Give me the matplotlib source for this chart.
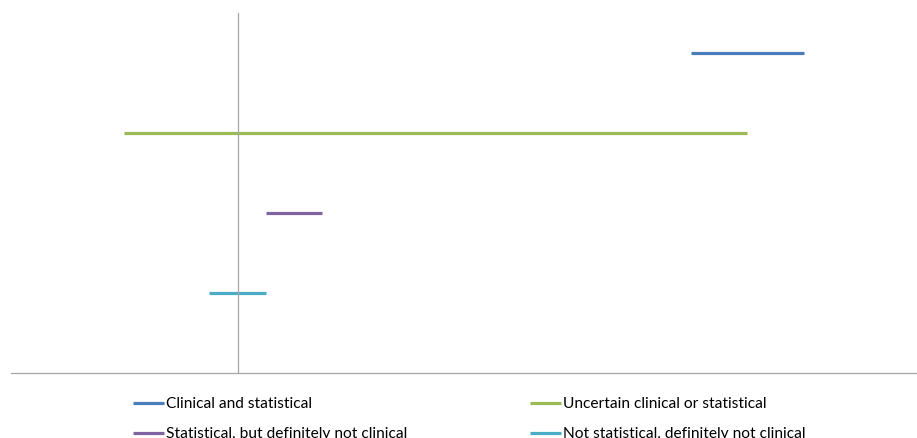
import matplotlib.pyplot as plt

# interval rows, top to bottom
labels = ["Clinical and statistical", "Uncertain clinical or statistical",
          "Statistical, but definitely not clinical", "Not statistical, definitely not clinical"]
row_y = [4, 3, 2, 1]
low = [4.0, -1.0, 0.25, -0.25]
high = [5.0, 4.5, 0.75, 0.25]
colors = ["#4A7EBB", "#9BBB59", "#8064A2", "#4BACC6"]

plt.rcParams['font.family'] = ['Lato', 'DejaVu Sans']

fig = plt.figure(figsize=(9.17, 4.38), dpi=100)
ax = fig.add_axes([11 / 917, 65 / 438, 906 / 917, 360 / 438])

handles = []
for lab, y, lo, hi, c in zip(labels, row_y, low, high, colors):
    h, = ax.plot([lo, hi], [y, y], color=c, lw=2.3, solid_capstyle='butt', label=lab)
    handles.append(h)

ax.set_xlim(-2, 6)
ax.set_ylim(0, 4.5)
for s in ['top', 'right']:
    ax.spines[s].set_visible(False)
ax.spines['left'].set_position(('data', 0))
ax.spines['left'].set_color('#A6A6A6')
ax.spines['bottom'].set_color('#A6A6A6')
ax.spines['left'].set_linewidth(0.9)
ax.spines['bottom'].set_linewidth(0.9)
ax.set_xticks([])
ax.set_yticks([])

# legend: column-major order so rows read blue/green then purple/cyan
order = [0, 2, 1, 3]
fig.legend([handles[i] for i in order], [labels[i] for i in order],
           ncol=2, loc='upper left', bbox_to_anchor=(133 / 917, 41 / 438),
           frameon=False, fontsize=11.2, handlelength=2.0, handletextpad=0.15,
           labelspacing=1.05, columnspacing=7.85, borderpad=0, borderaxespad=0)

fig.savefig("out.png", dpi=100)
